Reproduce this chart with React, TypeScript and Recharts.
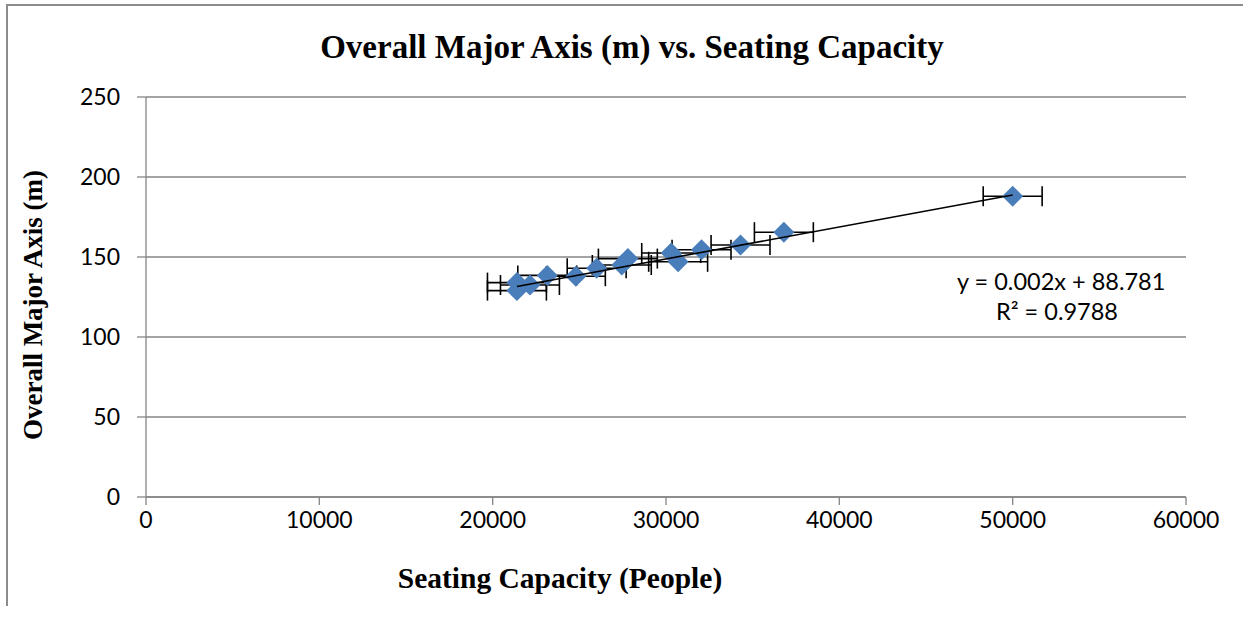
import React from "react";
import {
  ScatterChart,
  Scatter,
  XAxis,
  YAxis,
  CartesianGrid,
  ErrorBar,
} from "recharts";

// Seating capacity (people)
const seatingCapacity = [21400, 21400, 22150, 23150, 24800, 26000, 27450, 27800, 30300, 30700, 32050, 34300, 36800, 50000];
// Overall major axis (m)
const majorAxis = [134, 129, 132.5, 138.5, 138, 143, 145, 149, 152.5, 147, 154.5, 157.5, 165.5, 188];
// Horizontal error (people)
const capacityError = [1700, 1700, 1700, 1700, 1700, 1700, 1700, 1700, 1700, 1700, 1700, 1700, 1700, 1700];

const xTicks = [0, 10000, 20000, 30000, 40000, 50000, 60000];
const yTicks = [0, 50, 100, 150, 200, 250];

// Trendline as reported on the chart
const trendSlope = 0.002;
const trendIntercept = 88.781;
const equationText = "y = 0.002x + 88.781";
const r2Text = "R² = 0.9788";

const points = seatingCapacity.map((x, i) => ({ x, y: majorAxis[i], err: capacityError[i] }));
const xMin = Math.min(...seatingCapacity);
const xMax = Math.max(...seatingCapacity);
const trendPoints = [
  { x: xMin, y: trendSlope * xMin + trendIntercept },
  { x: xMax, y: trendSlope * xMax + trendIntercept },
];

const Diamond = (props: any) => {
  const { cx, cy } = props;
  const r = 10.5;
  return (
    <polygon
      points={`${cx},${cy - r} ${cx + r},${cy} ${cx},${cy + r} ${cx - r},${cy}`}
      fill="#4A7EBB"
    />
  );
};

const NoShape = () => <g />;

const tickFont = { fontFamily: "Lato, 'Open Sans', sans-serif", fontSize: 23, fill: "#000" };
const serifBold: React.CSSProperties = {
  fontFamily: "'Liberation Serif', 'Times New Roman', serif",
  fontWeight: "bold",
  color: "#000",
  position: "absolute",
  whiteSpace: "nowrap",
};

export default function App() {
  return (
    <div style={{ position: "absolute", left: 0, top: 0, width: 1243, height: 617, overflow: "hidden", background: "#fff" }}>
      <div style={{ position: "absolute", left: 6, top: 4, width: 1300, height: 2, background: "#8c8c8c" }} />
      <div style={{ position: "absolute", left: 6, top: 4, width: 2, height: 602, background: "#8c8c8c" }} />
      <ScatterChart
        width={1243}
        height={617}
        margin={{ top: 97, right: 57, bottom: 90, left: 0 }}
        style={{ position: "absolute", left: 0, top: 0 }}
      >
        <CartesianGrid horizontal={true} vertical={false} stroke="#868686" strokeWidth={1.3} />
        <XAxis
          type="number"
          dataKey="x"
          domain={[0, 60000]}
          ticks={xTicks}
          interval={0}
          height={30}
          tick={tickFont}
          tickSize={8}
          tickMargin={7}
          axisLine={{ stroke: "#868686", strokeWidth: 1.3 }}
          tickLine={{ stroke: "#868686", strokeWidth: 1.3 }}
        />
        <YAxis
          type="number"
          dataKey="y"
          domain={[0, 250]}
          ticks={yTicks}
          interval={0}
          width={146}
          tick={tickFont}
          tickSize={9}
          tickMargin={17}
          axisLine={{ stroke: "#868686", strokeWidth: 1.3 }}
          tickLine={{ stroke: "#868686", strokeWidth: 1.3 }}
        />
        <Scatter data={points} shape={<Diamond />} isAnimationActive={false}>
          <ErrorBar dataKey="err" direction="x" width={10} stroke="#000" strokeWidth={1.6} />
        </Scatter>
        <Scatter
          data={trendPoints}
          shape={<NoShape />}
          line={{ stroke: "#000", strokeWidth: 1.6 }}
          isAnimationActive={false}
        />
      </ScatterChart>
      <div style={{ ...serifBold, left: 0, width: 1264, top: 28, lineHeight: "38px", textAlign: "center", fontSize: 33 }}>
        Overall Major Axis (m) vs. Seating Capacity
      </div>
      <div style={{ ...serifBold, left: 0, width: 1120, top: 561, lineHeight: "34px", textAlign: "center", fontSize: 29.5 }}>
        Seating Capacity (People)
      </div>
      <div
        style={{
          ...serifBold,
          left: 33,
          top: 305,
          fontSize: 27,
          lineHeight: "32px",
          transform: "translate(-50%, -50%) rotate(-90deg)",
        }}
      >
        Overall Major Axis (m)
      </div>
      <div
        style={{
          position: "absolute",
          left: 957,
          width: 200,
          top: 266,
          textAlign: "center",
          fontFamily: "Lato, 'Open Sans', sans-serif",
          fontSize: 23.5,
          lineHeight: "30px",
          color: "#000",
          whiteSpace: "nowrap",
        }}
      >
        <div>{equationText}</div>
        <div>{r2Text}</div>
      </div>
    </div>
  );
}
